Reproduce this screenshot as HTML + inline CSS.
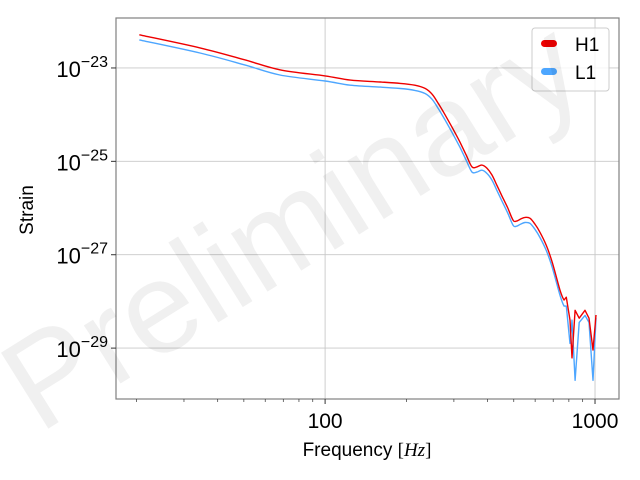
<!DOCTYPE html>
<html><head><meta charset="utf-8"><style>
html,body{margin:0;padding:0;background:#fff;}
svg{display:block;font-family:"Liberation Sans","DejaVu Sans",sans-serif;}
</style></head><body>
<svg id="chart" width="640" height="480" viewBox="0 0 640 480">
<g id="grid"></g>
<g id="lines"></g>
<rect x="116" y="18" width="503" height="381" fill="none" stroke="#808080" stroke-width="1.2"/>
<g id="ticks"></g>
<text x="367" y="456" font-size="19" text-anchor="middle">Frequency <tspan font-family="Liberation Serif, serif">[<tspan font-style="italic">Hz</tspan>]</tspan></text>
<text x="33" y="210" font-size="19" text-anchor="middle" transform="rotate(-90 33 210)">Strain</text>
<g>
<rect x="532" y="28" width="77" height="63" rx="3" fill="#fff" fill-opacity="0.8" stroke="#ccc"/>
<rect x="541" y="40" width="16" height="7" rx="3.5" fill="#ee0000"/>
<text x="575" y="51" font-size="19">H1</text>
<rect x="541" y="68" width="16" height="7" rx="3.5" fill="#4da6ff"/>
<text x="575" y="79" font-size="19">L1</text>
</g>
<text x="315" y="262" font-size="130" fill="#000" fill-opacity="0.06" text-anchor="middle" transform="rotate(-32 315 262)">Preliminary</text>
</svg>
<script>
const freqs = [20.5,34.4,50,68,100,124,160,190,215,235,249,262,278,296,316,334,350,365,381,398,415,432,452,475,497,512,528,550,575,600,624,660,694,742,768,783,808,822,844,874,918,950,983,1008];
const h1Log = [-22.29,-22.57,-22.82,-23.04,-23.17,-23.26,-23.3,-23.33,-23.37,-23.44,-23.56,-23.75,-24.0,-24.28,-24.59,-24.88,-25.12,-25.12,-25.08,-25.15,-25.29,-25.5,-25.74,-26.0,-26.26,-26.28,-26.24,-26.2,-26.22,-26.35,-26.51,-26.8,-27.16,-27.76,-27.97,-27.91,-28.4,-29.21,-28.19,-28.36,-28.19,-28.36,-29.04,-28.29];
const l1Log = [-22.4,-22.68,-22.93,-23.15,-23.28,-23.37,-23.41,-23.44,-23.48,-23.55,-23.67,-23.86,-24.11,-24.39,-24.7,-24.99,-25.23,-25.23,-25.19,-25.26,-25.4,-25.61,-25.85,-26.11,-26.37,-26.39,-26.35,-26.31,-26.33,-26.46,-26.62,-26.91,-27.27,-27.87,-28.1,-28.1,-28.9,-28.4,-29.69,-28.45,-28.3,-28.45,-29.69,-28.35];
const xTicks = [100,1000];
const xTickLabels = ["100","1000"];
const yTickExps = [-23,-25,-27,-29];
const NS='http://www.w3.org/2000/svg';
const L=116,R=619,T=18,B=399;
const xMin=Math.log10(16.8),xMax=Math.log10(1227),yMin=-30.09,yMax=-21.93;
function xs(f){return L+(Math.log10(f)-xMin)/(xMax-xMin)*(R-L);}
function ys(v){return B-(v-yMin)/(yMax-yMin)*(B-T);}
const grid=document.getElementById('grid'),ticks=document.getElementById('ticks'),lines=document.getElementById('lines');
function mk(tag,attrs,parent){const e=document.createElementNS(NS,tag);for(const k in attrs)e.setAttribute(k,attrs[k]);parent.appendChild(e);return e;}
xTicks.forEach((f,i)=>{
  const x=xs(f);
  const g=mk('line',{x1:x,x2:x,y1:T,y2:B,stroke:'#c8c8c8','stroke-width':0.9},grid);
  
  
  const t=mk('line',{x1:x,x2:x,y1:B,y2:B+5,stroke:'#333'},ticks);
  
  
  const lb=mk('text',{x:x,y:B+29,'font-size':21,'text-anchor':'middle'},ticks);
  lb.textContent=xTickLabels[i];
  
  
});
for(let d=2;d<=9;d++){[10,100].forEach(b=>{const f=d*b;if(f<16.8||f>1227)return;const x=xs(f);
  const m=mk('line',{x1:x,x2:x,y1:B,y2:B+3,stroke:'#333','stroke-width':0.7},ticks);
  
  });}
yTickExps.forEach(e=>{
  const y=ys(e);
  const g=mk('line',{x1:L,x2:R,y1:y,y2:y,stroke:'#c8c8c8','stroke-width':0.9},grid);
  
  
  const t=mk('line',{x1:L-5,x2:L,y1:y,y2:y,stroke:'#333'},ticks);
  
  
  const lb=mk('text',{x:L-8,y:y+9,'font-size':22,'text-anchor':'end'},ticks);
  lb.innerHTML='10<tspan dy="-10" font-size="16">−'+(-e)+'</tspan>';
  
  
});
function path(vals,color,name){
  const pts=freqs.map((f,i)=>[xs(f),ys(vals[i])]);
  let d='M'+pts[0][0].toFixed(1)+','+pts[0][1].toFixed(1);
  for(let i=0;i<pts.length-1;i++){
    const p0=pts[Math.max(0,i-1)],p1=pts[i],p2=pts[i+1],p3=pts[Math.min(pts.length-1,i+2)];
    const k=i>=34?0:1/6;
    const c1=[p1[0]+(p2[0]-p0[0])*k,p1[1]+(p2[1]-p0[1])*k];
    const c2=[p2[0]-(p3[0]-p1[0])*k,p2[1]-(p3[1]-p1[1])*k];
    d+=' C'+c1[0].toFixed(1)+','+c1[1].toFixed(1)+' '+c2[0].toFixed(1)+','+c2[1].toFixed(1)+' '+p2[0].toFixed(1)+','+p2[1].toFixed(1);
  }
  const p=mk('path',{d:d,fill:'none',stroke:color,'stroke-width':1.4,'stroke-linejoin':'round'},lines);
  
  
}
path(l1Log,'#4da6ff','series-l1');
path(h1Log,'#ee0000','series-h1');
</script>
</body></html>
